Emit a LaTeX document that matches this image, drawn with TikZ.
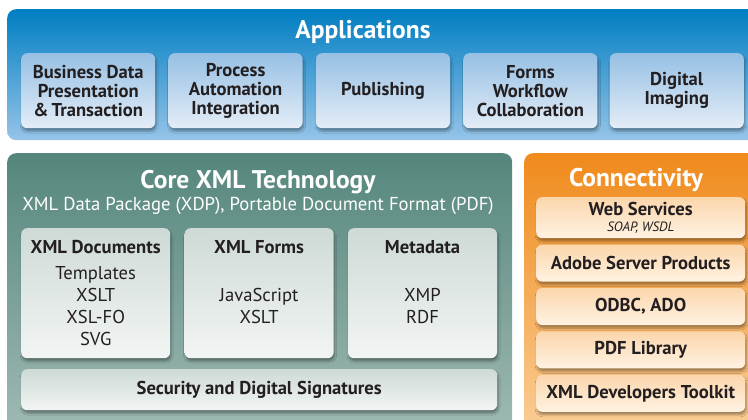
\documentclass[tikz,border=0pt]{standalone}
\usepackage{fontspec}
\setmainfont{PT Sans}
\usetikzlibrary{positioning}
\usetikzlibrary{shadows.blur}
\definecolor{ink}{RGB}{35,31,32}
\definecolor{apptop}{RGB}{0,126,194}
\definecolor{appbot}{RGB}{150,196,232}
\definecolor{appboxtop}{RGB}{150,192,228}
\definecolor{appboxbot}{RGB}{228,237,247}
\definecolor{coretop}{RGB}{84,134,124}
\definecolor{corebot}{RGB}{160,186,180}
\definecolor{coreboxtop}{RGB}{206,218,214}
\definecolor{coreboxbot}{RGB}{242,245,244}
\definecolor{linktop}{RGB}{240,138,28}
\definecolor{linkbot}{RGB}{250,206,150}
\definecolor{linkboxtop}{RGB}{251,214,172}
\definecolor{linkboxbot}{RGB}{255,242,226}
\tikzset{
    panel/.style={
           rectangle,
           rounded corners=9pt,
           anchor=north west,
           inner sep=0pt,
           },
    paneltitle/.style={
           text=white,
           font=\bfseries\fontsize{25.5}{28}\selectfont,
           },
    softshadow/.style={
           blur shadow={shadow xshift=1pt, shadow yshift=-3pt,
                        shadow blur steps=6, shadow opacity=35},
           },
    appbox/.style={
           rectangle,
           rounded corners=6pt,
           softshadow,
           top color=appboxtop, bottom color=appboxbot,
           minimum width=134pt, minimum height=75pt,
           inner sep=0pt,
           align=center, text=ink,
           font=\bfseries\fontsize{18.6}{19}\selectfont,
           },
    corebox/.style={
           rectangle,
           rounded corners=6pt,
           softshadow,
           top color=coreboxtop, bottom color=coreboxbot,
           minimum width=149pt, minimum height=130pt,
           inner sep=0pt,
           },
    boxhead/.style={
           text=ink,
           font=\bfseries\fontsize{18.6}{19}\selectfont,
           },
    boxbody/.style={
           text=ink, align=center,
           font=\fontsize{18.6}{22}\selectfont,
           },
    linkbox/.style={
           rectangle,
           rounded corners=6pt,
           softshadow,
           top color=linkboxtop, bottom color=linkboxbot,
           minimum width=209pt, minimum height=37pt,
           inner sep=0pt,
           align=center, text=ink,
           font=\bfseries\fontsize{18.6}{19}\selectfont,
           },
}
\begin{document}
\begin{tikzpicture}[x=1pt,y=-1pt]
      \clip (0,0) rectangle (748,420);
      \fill[white] (0,0) rectangle (748,420);

      % Applications
      \node[panel, top color=apptop, bottom color=appbot,
            minimum width=750pt, minimum height=131pt] (apps) at (7,9) {};
      \node[paneltitle] (appstitle) at (363,32) {Applications};
      \node[appbox, anchor=north west] (bizdata) at (21,53)
            {Business Data\\Presentation\\\&\,Transaction};
      \node[appbox, right=13pt of bizdata] (process) {Process\\Automation\\Integration};
      \node[appbox, right=13pt of process] (publish) {Publishing};
      \node[appbox, right=13pt of publish] (forms) {Forms\\Workflow\\Collaboration};
      \node[appbox, right=12pt of forms] (imaging) {Digital\\Imaging};

      % Core XML Technology
      \node[panel, top color=coretop, bottom color=corebot,
            minimum width=505pt, minimum height=280pt] (core) at (7,153) {};
      \node[paneltitle] (coretitle) at (258,182) {Core XML Technology};
      \node[text=white, font=\fontsize{18.7}{21}\selectfont] (coresub) at (258,206)
            {XML Data Package (XDP), Portable Document Format (PDF)};
      \node[corebox, anchor=north west] (xmldocs) at (21,228) {};
      \node[corebox, right=14pt of xmldocs] (xmlforms) {};
      \node[corebox, right=14pt of xmlforms] (metadata) {};
      \node[boxhead] (docshead) at ([yshift=-19pt]xmldocs.north) {XML Documents};
      \node[boxhead] (formshead) at ([yshift=-19pt]xmlforms.north) {XML Forms};
      \node[boxhead] (metahead) at ([yshift=-19pt]metadata.north) {Metadata};
      \node[boxbody] (docsbody) at ([yshift=-13pt]xmldocs.center)
            {Templates\\XSLT\\XSL-FO\\SVG};
      \node[boxbody] (formsbody) at ([yshift=-13pt]xmlforms.center) {JavaScript\\XSLT};
      \node[boxbody] (metabody) at ([yshift=-13pt]metadata.center) {XMP\\RDF};
      \node[corebox, anchor=north west, minimum width=476pt, minimum height=41pt,
            boxhead] (security) at (21,369) {Security and Digital Signatures};

      % Connectivity
      \node[panel, top color=linktop, bottom color=linkbot,
            minimum width=240pt, minimum height=280pt] (connect) at (524,153) {};
      \node[paneltitle] (connecttitle) at (636,180) {Connectivity};
      \node[linkbox, anchor=north west, minimum height=41pt] (websvc) at (536,197)
            {Web Services\\[-3pt]{\normalfont\itshape\fontsize{13.5}{14}\selectfont SOAP, WSDL}};
      \node[linkbox, below=6pt of websvc] (adobesrv) {Adobe Server Products};
      \node[linkbox, below=6pt of adobesrv] (odbc) {ODBC, ADO};
      \node[linkbox, below=6pt of odbc] (pdflib) {PDF Library};
      \node[linkbox, below=6pt of pdflib] (devkit) {XML Developers Toolkit};
\end{tikzpicture}
\end{document}
